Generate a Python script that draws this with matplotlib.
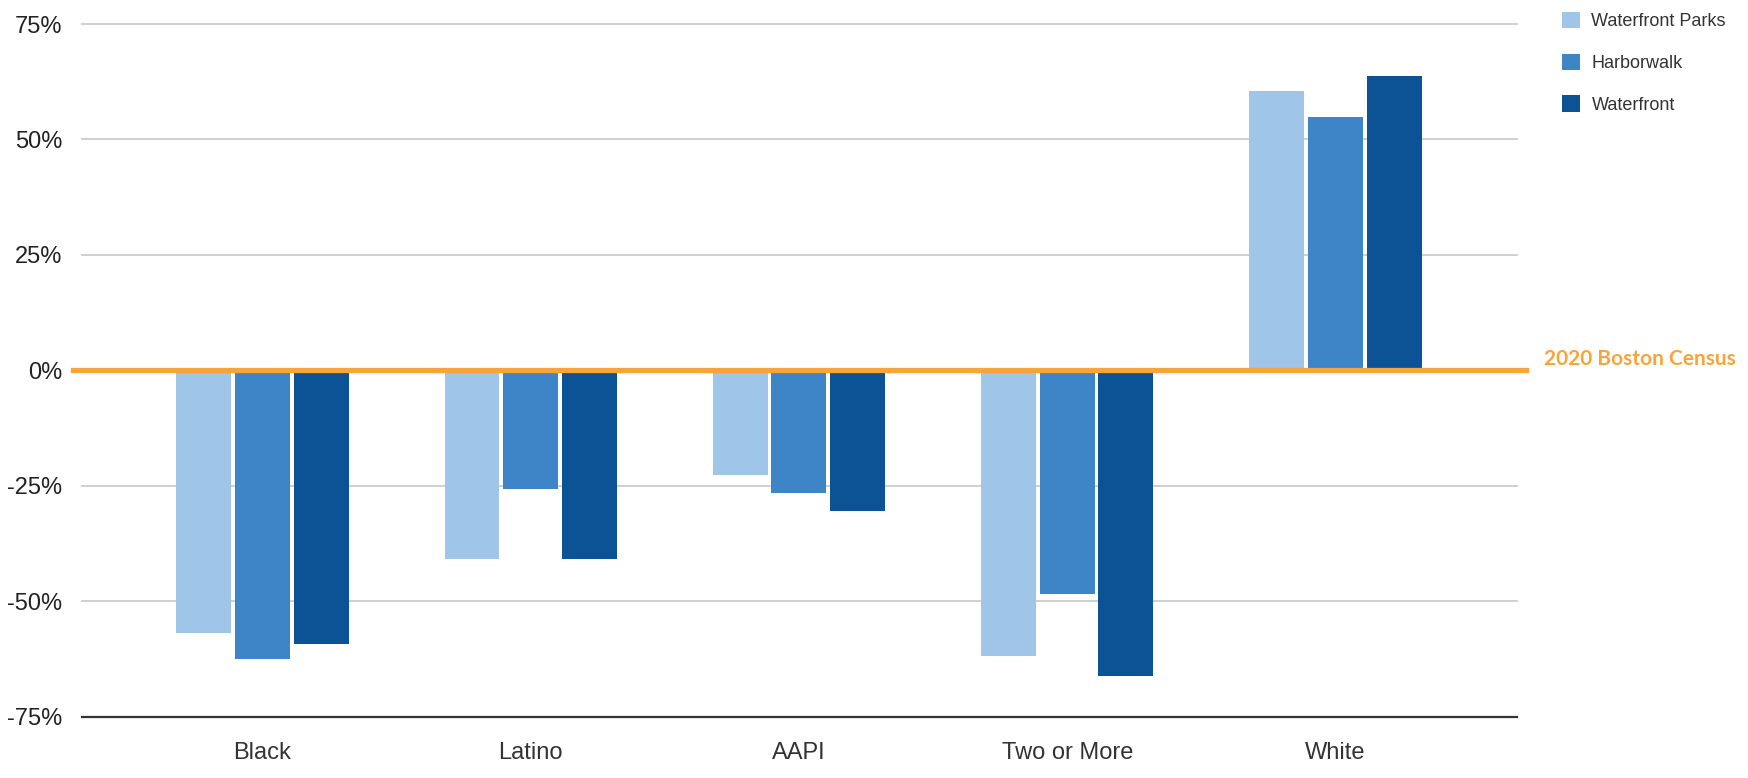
import numpy as np
import matplotlib
matplotlib.use("Agg")
import matplotlib.pyplot as plt
from matplotlib.patches import Patch

plt.rcParams['font.family'] = ['Liberation Sans', 'DejaVu Sans']

# difference from the 2020 Boston census share, in percent
categories = ['Black', 'Latino', 'AAPI', 'Two or More', 'White']
series_names = ['Waterfront Parks', 'Harborwalk', 'Waterfront']
waterfront_parks = [-56.8, -40.8, -22.6, -61.8, 60.5]
harborwalk = [-62.6, -25.7, -26.6, -48.4, 54.9]
waterfront = [-59.3, -40.9, -30.4, -66.2, 63.7]
yticks = [-75, -50, -25, 0, 25, 50, 75]
census_label = '2020 Boston Census'

colors = ['#9fc5e8', '#3d85c6', '#0b5394']
orange = '#f9a43a'

W, H = 1748, 778
fig = plt.figure(figsize=(W / 100, H / 100), dpi=100)
ax = fig.add_axes([82 / W, (H - 716.7) / H, (1517 - 82) / W, (716.7 - 24) / H])

x = np.arange(len(categories))
bar_w = 0.205
step = 0.219
for i, (vals, col, name) in enumerate(zip([waterfront_parks, harborwalk, waterfront], colors, series_names)):
    ax.bar(x + (i - 1) * step, vals, width=bar_w, color=col, label=name, zorder=2)

ax.set_xlim(-0.673, 4.677)
ax.set_ylim(-75, 75)

# light gridlines, dark baseline at the bottom
for t in yticks:
    if t == -75:
        ax.axhline(t, color='#333333', lw=1.6, zorder=1, clip_on=False)
    elif t != 0:
        ax.axhline(t, color='#cccccc', lw=1.3, zorder=1, clip_on=False)

# census reference line at zero
ax.axhline(0, xmin=-0.006, xmax=1.006, color=orange, lw=3.8, zorder=3, clip_on=False)
ax.text(1544 / W, 1 - 359 / H, census_label, transform=fig.transFigure, ha='left', va='center',
        fontsize=15, color=orange, family=['Lato', 'DejaVu Sans'], fontweight='bold')

for s in ax.spines.values():
    s.set_visible(False)

ax.set_yticks(yticks)
ax.set_yticklabels(['%d%%' % t for t in yticks])
ax.set_xticks(x)
ax.set_xticklabels(categories)
ax.tick_params(axis='y', length=0, pad=14, labelsize=17, labelcolor='#222222')
ax.tick_params(axis='x', length=0, pad=18, labelsize=17, labelcolor='#333333')

handles = [Patch(facecolor=c, edgecolor='none') for c in colors]
ax.legend(handles, series_names, loc='upper left',
          bbox_to_anchor=(1561.7 / W, 1 - 12 / H), bbox_transform=fig.transFigure,
          frameon=False, fontsize=13, handlelength=1.0, handleheight=1.0,
          handletextpad=0.65, labelspacing=1.3, borderpad=0, borderaxespad=0,
          labelcolor='#333333')

fig.savefig('out.png', dpi=100, facecolor='white')
